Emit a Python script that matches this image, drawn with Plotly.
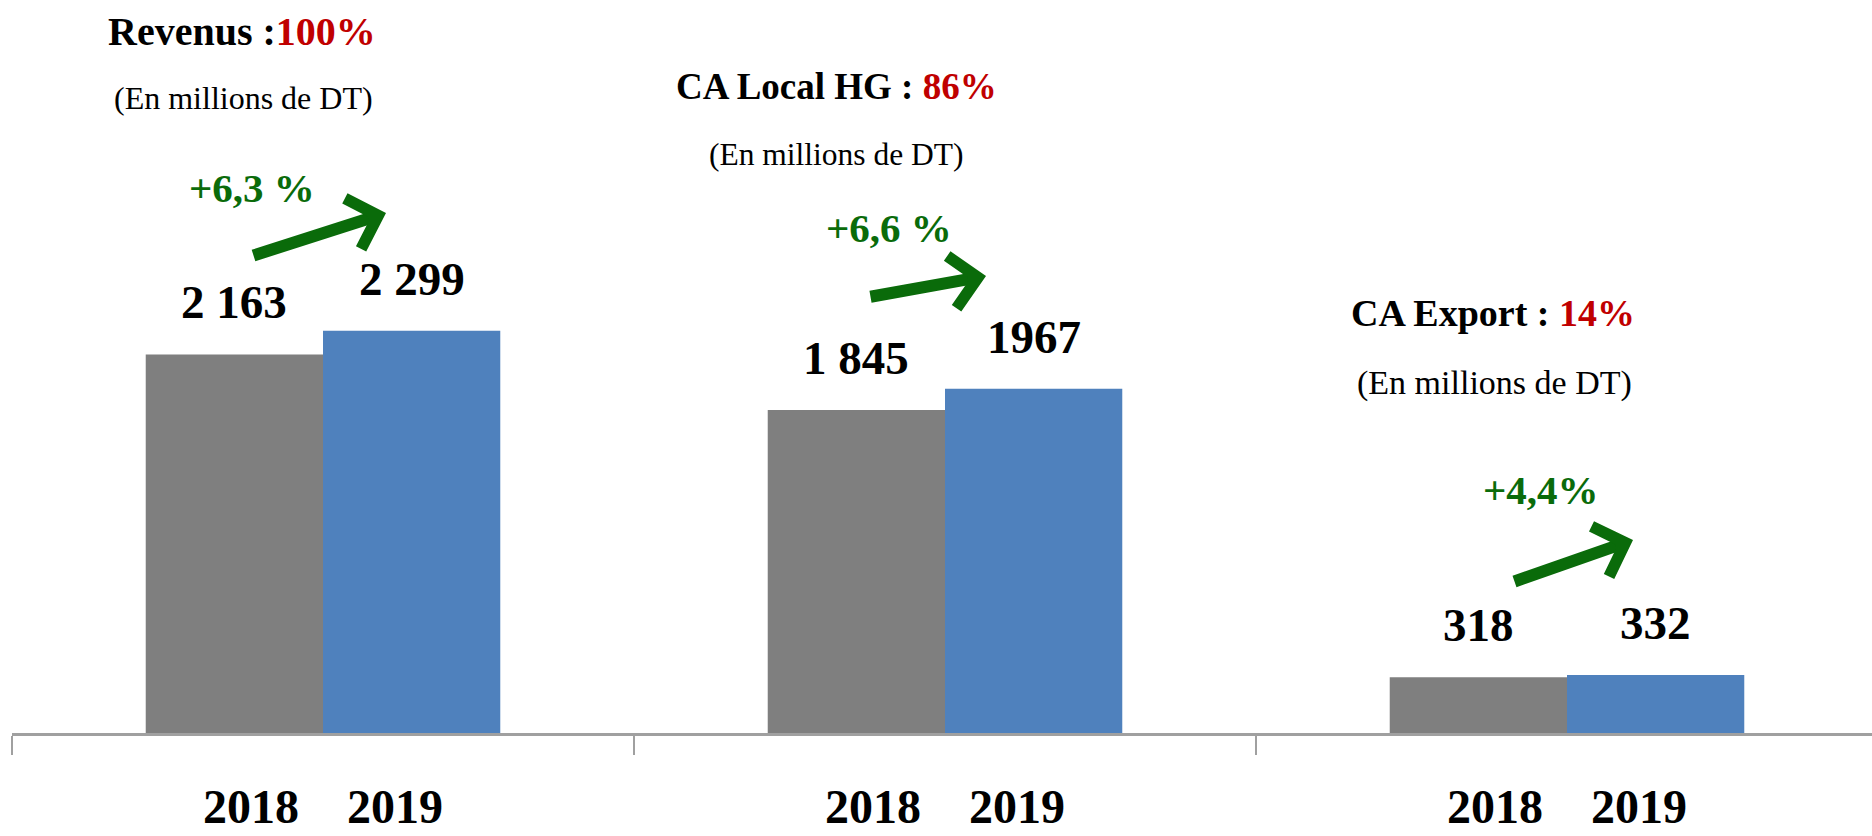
import plotly.graph_objects as go

# ---- data ----
categories = ["Revenus", "CA Local HG", "CA Export"]
years = ["2018", "2019"]
values_2018 = [2163, 1845, 318]
values_2019 = [2299, 1967, 332]
value_labels_2018 = ["2 163", "1 845", "318"]
value_labels_2019 = ["2 299", "1967", "332"]
titles = ["Revenus :", "CA Local HG : ", "CA Export : "]
shares = ["100%", "86%", "14%"]
growth = ["+6,3 %", "+6,6 %", "+4,4%"]
subtitle = "(En millions de DT)"

W, H = 1872, 836
L, R, T, B = 12, 0, 0, 103
PW, PH = W - L - R, H - T - B
YMAX = PH / 0.175

GRAY = "#7F7F7F"
BLUE = "#4F81BD"
RED = "#C00000"
GREEN = "#0A6B0A"
FONT = "Liberation Serif, DejaVu Serif, serif"

def px(x, y):
    return (x - L) / PW, (T + PH - y) / PH

fig = go.Figure()
fig.add_trace(go.Bar(x=categories, y=values_2018, name=years[0], marker_color=GRAY,
                     marker_line_width=0))
fig.add_trace(go.Bar(x=categories, y=values_2019, name=years[1], marker_color=BLUE,
                     marker_line_width=0))

ann = []
half = (1 - 0.43) / 4  # centre offset of each bar within a category
for i in range(len(categories)):
    for off, v, lab in ((-half, values_2018[i], value_labels_2018[i]),
                        (half, values_2019[i], value_labels_2019[i])):
        ann.append(dict(x=i + off, y=v, xref="x", yref="y", text=lab, showarrow=False,
                        yanchor="middle", yshift=52,
                        font=dict(family=FONT, size=47, color="black", weight="bold")))

title_pos = [(242, 31), (836, 87), (1493, 313)]
sub_pos = [(243, 98), (836, 154), (1494, 383)]
pct_pos = [(252, 188), (889, 228), (1541, 490)]
title_size = [40, 37, 38]
sub_size = [32, 31.5, 34]
arrows = [((252, 256), (386, 213)), ((869, 297), (986, 276)), ((1513, 582), (1633, 540))]

for i in range(len(categories)):
    x, y = px(*title_pos[i])
    ann.append(dict(x=x, y=y, xref="paper", yref="paper", showarrow=False,
                    xanchor="center", yanchor="middle",
                    text=f"{titles[i]}<span style='color:{RED}'>{shares[i]}</span>",
                    font=dict(family=FONT, size=title_size[i], color="black", weight="bold")))
    x, y = px(*sub_pos[i])
    ann.append(dict(x=x, y=y, xref="paper", yref="paper", showarrow=False,
                    xanchor="center", yanchor="middle", text=subtitle,
                    font=dict(family=FONT, size=sub_size[i], color="black")))
    x, y = px(*pct_pos[i])
    ann.append(dict(x=x, y=y, xref="paper", yref="paper", showarrow=False,
                    xanchor="center", yanchor="middle", text=growth[i],
                    font=dict(family=FONT, size=41, color=GREEN, weight="bold")))
    (tx, ty), (hx, hy) = arrows[i]
    x, y = px(hx, hy)
    ann.append(dict(x=x, y=y, xref="paper", yref="paper", text="", showarrow=True,
                    ax=tx - hx, ay=ty - hy, arrowhead=4, arrowsize=0.85, arrowwidth=12,
                    arrowcolor=GREEN, standoff=0))

ticktext = [years[0] + "\u00a0" * 4 + years[1] for _ in categories]

fig.update_layout(
    width=W, height=H, autosize=False,
    margin=dict(l=L, r=R, t=T, b=B, pad=0, autoexpand=False),
    paper_bgcolor="white", plot_bgcolor="white",
    barmode="group", bargap=0.43, bargroupgap=0,
    showlegend=False,
    annotations=ann,
    xaxis=dict(type="category", range=[-0.5, -0.5 + PW / 622], automargin=False,
               tickmode="array", tickvals=categories, ticktext=ticktext,
               tickson="boundaries", ticks="outside", ticklen=19, tickwidth=1.5,
               tickcolor="#A0A0A0", showline=True, linecolor="#A0A0A0", linewidth=3,
               showgrid=False, zeroline=False, ticklabelstandoff=29,
               tickfont=dict(family=FONT, size=48, color="black", weight="bold")),
    yaxis=dict(visible=False, range=[0, YMAX], showgrid=False, zeroline=False,
               automargin=False),
)

fig.write_html(
    "out.html",
    config={"displayModeBar": False},
    post_script="document.body.style.margin='0';document.body.style.overflow='hidden';",
)
